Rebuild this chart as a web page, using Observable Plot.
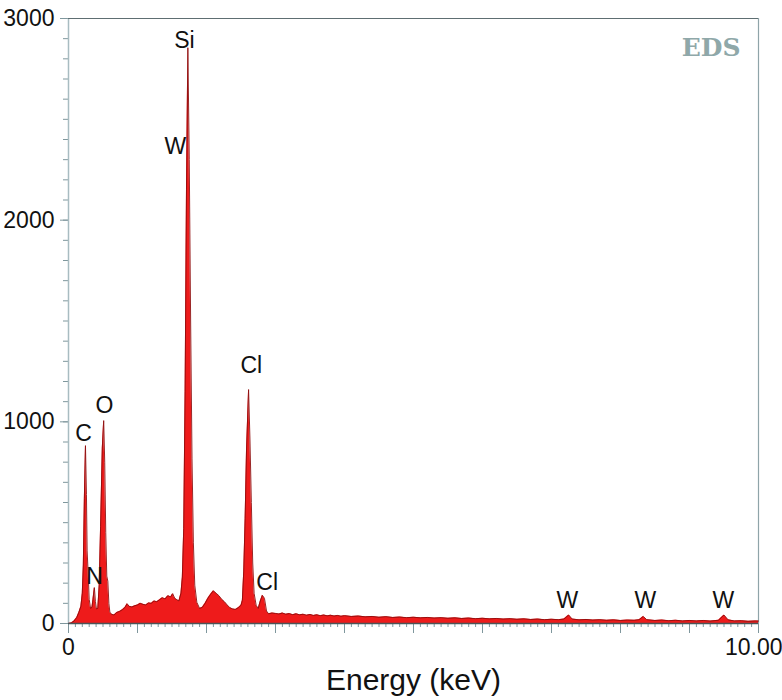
<!DOCTYPE html>
<html>
<head>
<meta charset="utf-8">
<script src="https://cdn.jsdelivr.net/npm/d3@7"></script>
<script src="https://cdn.jsdelivr.net/npm/@observablehq/plot@0.6"></script>
<style>
  html, body { margin: 0; padding: 0; background: #fff; }
  #chart svg { display: block; }
</style>
</head>
<body>
<div id="chart"></div>
<script>
// EDS spectrum: [energy keV, counts]
const spectrum = [
  [0.00,0],[0.04,3],[0.08,12],[0.12,30],[0.15,55],[0.18,85],[0.20,150],[0.215,290],[0.23,620],[0.246,882],
  [0.26,640],[0.27,360],[0.285,250],[0.30,120],[0.32,75],[0.34,80],[0.355,120],[0.375,178],[0.39,110],[0.405,72],
  [0.425,75],[0.445,190],[0.465,480],[0.49,870],[0.51,1006],[0.525,800],[0.54,450],[0.555,235],[0.57,210],[0.585,100],
  [0.60,55],[0.63,45],[0.66,42],[0.70,55],[0.74,60],[0.78,68],[0.82,80],[0.85,98],[0.88,85],[0.92,82],
  [0.96,88],[1.00,92],[1.04,100],[1.08,95],[1.12,92],[1.16,102],[1.20,100],[1.24,112],[1.28,108],[1.32,118],
  [1.36,128],[1.40,122],[1.44,138],[1.48,132],[1.51,148],[1.54,125],[1.57,118],[1.60,112],[1.63,150],[1.65,230],
  [1.67,470],[1.69,1150],[1.71,2150],[1.73,2855],[1.75,2300],[1.77,1500],[1.79,820],[1.81,400],[1.83,190],[1.86,105],
  [1.90,75],[1.94,80],[1.98,100],[2.02,125],[2.06,145],[2.10,162],[2.14,150],[2.18,138],[2.22,120],[2.26,108],
  [2.30,92],[2.34,78],[2.38,72],[2.42,70],[2.46,78],[2.50,90],[2.52,115],[2.54,260],[2.56,520],[2.58,860],
  [2.61,1160],[2.63,910],[2.65,600],[2.67,300],[2.69,150],[2.72,90],[2.75,75],[2.78,112],[2.81,140],[2.84,125],
  [2.87,62],[2.90,48],[2.95,52],[3.00,50],[3.05,47],[3.10,52],[3.15,46],[3.20,49],[3.25,44],[3.30,48],
  [3.35,43],[3.40,46],[3.45,41],[3.50,45],[3.55,40],[3.60,43],[3.65,39],[3.70,42],[3.75,38],[3.80,41],
  [3.85,37],[3.90,40],[3.95,36],[4.00,39],[4.10,35],[4.20,37],[4.30,33],[4.40,35],[4.50,31],[4.60,34],
  [4.70,30],[4.80,32],[4.90,29],[5.00,31],[5.10,28],[5.20,30],[5.30,27],[5.40,29],[5.50,26],[5.60,28],
  [5.70,25],[5.80,27],[5.90,24],[6.00,26],[6.10,23],[6.20,25],[6.30,22],[6.40,24],[6.50,21],[6.60,23],
  [6.70,20],[6.80,22],[6.90,19],[7.00,21],[7.10,19],[7.18,22],[7.25,42],[7.30,22],[7.40,18],[7.50,20],
  [7.60,17],[7.70,19],[7.80,16],[7.90,18],[8.00,15],[8.10,17],[8.20,16],[8.27,19],[8.33,35],[8.38,19],
  [8.50,15],[8.60,17],[8.70,14],[8.80,16],[8.90,13],[9.00,15],[9.10,13],[9.20,15],[9.30,12],[9.42,16],
  [9.50,42],[9.56,18],[9.65,13],[9.75,14],[9.85,11],[9.95,13],[10.00,12]
];

// Peak labels
const labelText   = ["Si", "W", "C", "O", "N", "Cl", "Cl", "W", "W", "W"];
const labelEnergy = [1.68, 1.55, 0.22, 0.52, 0.377, 2.65, 2.88, 7.23, 8.36, 9.49];
const labelCounts = [2856, 2330, 907, 1046, 198, 1240, 164, 79, 79, 79];

// Axis ticks
const yMajorTicks = [0, 1000, 2000, 3000];
const yMinorTicks = d3.range(0, 3001, 100);
const xMajorTicks = d3.range(0, 11, 1);
const xMinorTicks = d3.range(0, 101, 1).map(i => i / 10);
const xFirstLabel = "0";
const xLastLabel = "10.00";

const xLabel = "Energy (keV)";
const cornerLabel = "EDS";

const labels = labelText.map((t, i) => ({t, e: labelEnergy[i], c: labelCounts[i]}));
const data = spectrum.map(([e, c]) => ({e, c}));

const font = "'Liberation Sans', Arial, Helvetica, sans-serif";
const axisGrey = "#7f979d";

const chart = Plot.plot({
  width: 782,
  height: 700,
  marginLeft: 68,
  marginRight: 24,
  marginTop: 18,
  marginBottom: 77,
  style: {fontFamily: font, background: "#fff"},
  x: {domain: [0, 10]},
  y: {domain: [0, 3000]},
  marks: [
    // minor / major y ticks
    Plot.axisY({ticks: yMinorTicks, tickSize: 5, text: null, stroke: axisGrey, label: null}),
    Plot.axisY({ticks: yMajorTicks, tickSize: 8, tickPadding: 6, fontSize: 23, fill: "#111", stroke: axisGrey,
      tickFormat: d => String(d), label: null, fontFamily: font}),
    // x ticks
    Plot.axisX({ticks: xMinorTicks, tickSize: 4, text: null, stroke: axisGrey, label: null}),
    Plot.axisX({ticks: xMajorTicks, tickSize: 10, tickPadding: 5, fontSize: 23, fill: "#111", stroke: axisGrey,
      tickFormat: d => (d === 0 ? xFirstLabel : ""), label: null, fontFamily: font}),
    Plot.text([xLastLabel], {x: 10, y: 0, dx: 24, dy: 15, textAnchor: "end", lineAnchor: "top",
      fontSize: 23, fill: "#111", fontFamily: font}),
    // frame lines
    Plot.ruleX([0], {stroke: "#a8bcc1", strokeWidth: 1.5}),
    Plot.ruleX([10], {stroke: "#8fa4a9", strokeWidth: 1.2}),
    Plot.ruleY([3000], {stroke: "#5e6e72", strokeWidth: 1.2}),
    // spectrum
    Plot.areaY(data, {x: "e", y: "c", fill: "#ee1b1b", curve: "linear"}),
    Plot.lineY(data, {x: "e", y: "c", stroke: "#8e0c0c", strokeWidth: 0.9, curve: "linear"}),
    Plot.ruleY([0], {stroke: "#4a5558", strokeWidth: 1.5}),
    // labels
    Plot.text(labels, {x: "e", y: "c", text: "t", fontSize: 23, fill: "#111", lineAnchor: "bottom", fontFamily: font}),
    Plot.text([xLabel], {frameAnchor: "bottom", dy: 66, lineAnchor: "bottom", fontSize: 30, fill: "#111", fontFamily: font}),
    Plot.text([cornerLabel], {frameAnchor: "top-right", dx: -18, dy: 20, lineAnchor: "top", textAnchor: "end",
      fontSize: 25, fontWeight: "bold", fill: "#8fa8a9", letterSpacing: 0.5,
      fontFamily: "'DejaVu Serif', 'Liberation Serif', serif"})
  ]
});
document.getElementById("chart").appendChild(chart);
</script>
</body>
</html>
